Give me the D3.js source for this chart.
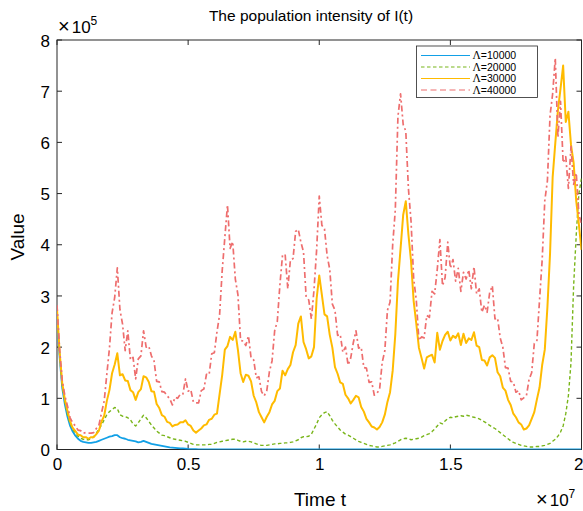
<!DOCTYPE html>
<html>
<head>
<meta charset="utf-8">
<script src="https://cdn.jsdelivr.net/npm/d3@7"></script>
<style>
  html, body { margin: 0; padding: 0; background: #ffffff; }
  svg { display: block; font-family: "Liberation Sans", Arial, Helvetica, sans-serif; }
</style>
</head>
<body>
<svg id="chart" width="583" height="511"></svg>
<script>
// ---- data (time in units of 1e7, values in units of 1e5) ----
const timeGrid = d3.range(201).map(i => i / 100);

const seriesLabels = ["=10000", "=20000", "=30000", "=40000"];
const xTicks = [0, 0.5, 1, 1.5, 2];
const xTickLabels = ["0", "0.5", "1", "1.5", "2"];
const yTicks = [0, 1, 2, 3, 4, 5, 6, 7, 8];
const yTickLabels = ["0", "1", "2", "3", "4", "5", "6", "7", "8"];

const lambda10000 = [
  2.60,1.80,1.20,0.88,0.64,0.46,0.35,0.27,0.21,0.17,
  0.15,0.14,0.13,0.13,0.14,0.15,0.17,0.19,0.21,0.23,
  0.25,0.26,0.28,0.28,0.24,0.22,0.21,0.19,0.18,0.17,
  0.16,0.14,0.15,0.17,0.15,0.13,0.11,0.10,0.09,0.08,
  0.07,0.06,0.05,0.04,0.035,0.03,0.025,0.02,0.02,0.015,
  0.01,0.008,0.006,0.005,0.004,0.003,0.002,0.002,0.001,0.001,
  0,0,0,0,0,0,0,0,0,0, 0,0,0,0,0,0,0,0,0,0,
  0,0,0,0,0,0,0,0,0,0, 0,0,0,0,0,0,0,0,0,0,
  0,0,0,0,0,0,0,0,0,0, 0,0,0,0,0,0,0,0,0,0,
  0,0,0,0,0,0,0,0,0,0, 0,0,0,0,0,0,0,0,0,0,
  0,0,0,0,0,0,0,0,0,0, 0,0,0,0,0,0,0,0,0,0,
  0,0,0,0,0,0,0,0,0,0, 0,0,0,0,0,0,0,0,0,0,
  0,0,0,0,0,0,0,0,0,0, 0,0,0,0,0,0,0,0,0,0,
  0
];

const lambda20000 = [
  2.70,1.85,1.25,0.92,0.68,0.50,0.40,0.32,0.26,0.22,
  0.20,0.19,0.19,0.21,0.25,0.32,0.40,0.48,0.58,0.68,
  0.74,0.78,0.82,0.80,0.68,0.65,0.64,0.62,0.58,0.50,
  0.46,0.52,0.60,0.67,0.62,0.55,0.48,0.42,0.36,0.32,
  0.28,0.27,0.25,0.23,0.21,0.20,0.19,0.18,0.17,0.16,
  0.14,0.12,0.10,0.09,0.09,0.09,0.09,0.09,0.10,0.10,
  0.12,0.14,0.15,0.16,0.17,0.18,0.19,0.20,0.20,0.18,
  0.16,0.15,0.16,0.16,0.15,0.13,0.11,0.09,0.08,0.08,
  0.08,0.09,0.10,0.11,0.11,0.12,0.12,0.13,0.13,0.14,
  0.15,0.17,0.19,0.23,0.25,0.25,0.26,0.30,0.40,0.50,
  0.62,0.68,0.72,0.74,0.66,0.57,0.50,0.44,0.38,0.34,
  0.30,0.28,0.25,0.22,0.19,0.16,0.14,0.12,0.10,0.08,
  0.07,0.06,0.05,0.05,0.06,0.07,0.08,0.09,0.11,0.13,
  0.16,0.19,0.21,0.22,0.21,0.19,0.20,0.21,0.22,0.24,
  0.27,0.29,0.31,0.35,0.40,0.46,0.52,0.50,0.56,0.60,
  0.63,0.62,0.64,0.65,0.66,0.65,0.67,0.66,0.64,0.63,
  0.62,0.60,0.57,0.54,0.51,0.47,0.44,0.41,0.37,0.33,
  0.29,0.25,0.21,0.17,0.14,0.12,0.10,0.08,0.07,0.06,
  0.05,0.05,0.05,0.06,0.06,0.07,0.08,0.10,0.12,0.16,
  0.20,0.26,0.34,0.46,0.70,1.05,1.70,3.20,4.20,5.00,
  5.30
];

const lambda30000 = [
  2.75,1.90,1.30,0.98,0.75,0.55,0.42,0.36,0.29,0.28,
  0.24,0.24,0.21,0.24,0.24,0.30,0.37,0.55,0.66,0.95,
  1.16,1.49,1.66,1.88,1.45,1.47,1.35,1.34,1.16,1.12,
  0.97,1.12,1.18,1.43,1.41,1.32,1.14,1.13,0.89,0.81,
  0.67,0.64,0.54,0.52,0.45,0.48,0.49,0.53,0.53,0.57,
  0.49,0.46,0.37,0.33,0.37,0.41,0.47,0.49,0.58,0.60,
  0.68,0.70,1.08,1.46,1.95,2.02,2.20,2.14,2.30,1.94,
  1.49,1.32,1.46,1.44,1.33,1.05,0.92,0.73,0.63,0.53,
  0.64,0.73,0.88,0.95,1.14,1.19,1.54,1.45,1.57,1.65,
  1.90,2.04,2.46,2.60,2.10,1.96,1.78,1.82,2.00,2.95,
  3.40,3.02,2.64,2.60,2.24,1.99,1.61,1.48,1.31,1.28,
  1.07,1.00,0.90,0.97,1.05,1.02,0.83,0.74,0.60,0.53,
  0.45,0.43,0.39,0.44,0.53,0.68,0.93,1.12,1.54,2.25,
  3.28,3.92,4.58,4.85,4.20,3.68,2.90,2.46,1.99,1.79,
  1.58,1.80,1.83,1.85,1.70,2.28,1.95,2.12,2.24,2.30,
  2.13,2.22,2.18,2.27,2.04,2.26,2.08,2.17,2.14,2.29,
  2.03,2.00,1.75,1.74,1.64,1.80,1.84,1.79,1.51,1.43,
  1.21,1.15,0.97,0.87,0.70,0.63,0.53,0.49,0.39,0.41,
  0.47,0.60,0.73,0.98,1.21,1.65,1.95,2.78,3.82,5.32,
  5.98,6.62,7.05,7.50,6.40,6.60,5.95,5.60,4.85,4.40,
  3.90
];

const lambda40000 = [
  2.82,1.95,1.35,1.05,0.85,0.62,0.52,0.46,0.38,0.37,
  0.32,0.33,0.32,0.32,0.33,0.41,0.48,0.72,0.95,1.47,
  1.98,2.67,2.97,3.55,2.73,2.45,1.93,2.32,1.75,1.80,
  1.38,1.77,1.83,2.32,2.00,2.02,1.83,1.73,1.33,1.32,
  1.13,1.12,1.05,0.99,0.87,1.02,1.00,1.08,1.08,1.38,
  1.14,1.17,0.93,0.91,0.91,1.15,1.18,1.47,1.46,1.87,
  1.89,2.30,2.63,3.50,4.14,4.78,3.93,4.06,3.33,3.02,
  2.13,2.12,2.03,2.22,1.79,1.75,1.40,1.42,1.13,1.05,
  1.15,1.52,1.73,2.32,2.50,3.22,3.80,3.81,3.14,3.70,
  3.73,4.26,4.30,4.05,3.86,2.98,2.92,2.55,3.12,3.90,
  4.95,4.38,4.31,3.79,3.52,2.84,2.72,2.23,2.25,1.90,
  2.00,1.65,1.79,2.09,2.32,1.98,2.00,1.60,1.59,1.31,
  1.32,1.06,1.10,1.17,1.70,1.93,2.72,2.88,4.00,4.68,
  6.50,6.95,6.35,6.22,5.10,4.46,3.34,2.92,2.13,2.20,
  2.18,2.62,2.58,3.09,3.04,3.52,4.10,3.20,3.36,4.05,
  3.54,3.71,3.29,3.54,3.09,3.46,3.33,3.51,3.14,3.57,
  3.04,3.14,2.68,2.82,2.68,3.07,3.20,2.55,2.57,2.18,
  2.00,1.60,1.59,1.33,1.32,1.12,1.15,0.97,1.01,1.05,
  1.37,1.50,2.07,2.13,2.92,3.70,4.86,5.25,6.52,6.95,
  7.65,6.10,6.80,5.60,5.72,5.10,5.92,5.18,5.40,4.60,
  4.40
];

const seriesValues = [lambda10000, lambda20000, lambda30000, lambda40000];
const seriesColors = ["#12a0e6", "#79b51a", "#ffbb00", "#ee6e6e"];
const seriesDash = [null, "3.5,2.5", null, "6,3,2,3"];
const seriesWidth = [1.8, 1.4, 2.0, 1.7];
const legendDash = [null, "3.5,2.5", null, "6,3.5"];

// ---- layout ----
const svg = d3.select("#chart");
const padL = 57, padR = 581.5, padT = 40, padB = 449.5;
const x = d3.scaleLinear().domain([0, 2]).range([padL, padR]);
const y = d3.scaleLinear().domain([0, 8]).range([padB, padT]);
const axisColor = "#262626";

svg.append("defs").append("clipPath").attr("id", "plotclip")
  .append("rect").attr("x", padL).attr("y", padT)
  .attr("width", padR - padL).attr("height", padB - padT);

svg.append("rect").attr("width", 583).attr("height", 511).attr("fill", "#fff");

// curves
const line = d3.line().x((d, i) => x(timeGrid[i])).y(d => y(d));
const plot = svg.append("g").attr("clip-path", "url(#plotclip)");
seriesValues.forEach((vals, s) => {
  plot.append("path")
    .datum(vals)
    .attr("d", line)
    .attr("fill", "none")
    .attr("stroke", seriesColors[s])
    .attr("stroke-width", seriesWidth[s])
    .attr("stroke-linejoin", "round")
    .attr("stroke-dasharray", seriesDash[s]);
});

// axes (box with inward ticks)
const tickLen = 5;
const axBottom = d3.axisBottom(x).tickValues(xTicks).tickSize(0).tickFormat((d, i) => xTickLabels[i]);
const axLeft = d3.axisLeft(y).tickValues(yTicks).tickSize(0).tickFormat((d, i) => yTickLabels[i]);

const gb = svg.append("g").attr("transform", `translate(0,${padB})`).call(axBottom);
gb.select(".domain").remove();
gb.selectAll("text").attr("font-size", 17).attr("fill", "#000")
  .attr("font-family", "Liberation Sans, Arial, sans-serif").attr("dy", null).attr("y", 20.5);
// last label sits against the right edge of the picture
gb.selectAll("text").filter(d => d === 2).attr("text-anchor", "end").attr("x", 583 - padR);

const gl = svg.append("g").attr("transform", `translate(${padL},0)`).call(axLeft);
gl.select(".domain").remove();
gl.selectAll("text").attr("font-size", 17).attr("fill", "#000")
  .attr("font-family", "Liberation Sans, Arial, sans-serif").attr("x", -7).attr("dy", "0.36em");

const frame = svg.append("g").attr("stroke", axisColor).attr("stroke-width", 1).attr("fill", "none");
frame.append("rect").attr("x", padL).attr("y", padT).attr("width", padR - padL).attr("height", padB - padT);
xTicks.forEach(t => {
  frame.append("line").attr("x1", x(t)).attr("x2", x(t)).attr("y1", padB).attr("y2", padB - tickLen);
  frame.append("line").attr("x1", x(t)).attr("x2", x(t)).attr("y1", padT).attr("y2", padT + tickLen);
});
yTicks.forEach(v => {
  frame.append("line").attr("x1", padL).attr("x2", padL + tickLen).attr("y1", y(v)).attr("y2", y(v));
  frame.append("line").attr("x1", padR).attr("x2", padR - tickLen).attr("y1", y(v)).attr("y2", y(v));
});

// curves above the frame, so the flat blue curve covers the bottom axis line (as in reference)
svg.node().appendChild(plot.node());

// exponent labels
const expTop = svg.append("text").attr("x", 58).attr("y", 32.5).attr("font-size", 17).attr("fill", "#000");
expTop.append("tspan").text("\u00d7").attr("font-size", 20).attr("font-weight", 300);
expTop.append("tspan").text("10").attr("dx", 2);
expTop.append("tspan").text("5").attr("font-size", 12).attr("dy", -8);

const expBot = svg.append("text").attr("x", 536).attr("y", 506).attr("font-size", 17).attr("fill", "#000");
expBot.append("tspan").text("\u00d7").attr("font-size", 20).attr("font-weight", 300);
expBot.append("tspan").text("10").attr("dx", 2);
expBot.append("tspan").text("7").attr("font-size", 12).attr("dy", -8);

// title and axis labels
svg.append("text").attr("x", 311).attr("y", 21).attr("text-anchor", "middle")
  .attr("font-size", 15.5).attr("fill", "#000").text("The population intensity of I(t)");
svg.append("text").attr("x", 320).attr("y", 506).attr("text-anchor", "middle")
  .attr("font-size", 19).attr("fill", "#000").text("Time t");
svg.append("text").attr("transform", "translate(24,237) rotate(-90)").attr("text-anchor", "middle")
  .attr("font-size", 19).attr("fill", "#000").text("Value");

// legend
const lg = svg.append("g");
lg.append("rect").attr("x", 416.5).attr("y", 46).attr("width", 121).attr("height", 51.5)
  .attr("fill", "#fff").attr("stroke", axisColor).attr("stroke-width", 0.8);
const rowY = [55.5, 67, 78.5, 90];
seriesLabels.forEach((lab, i) => {
  lg.append("line").attr("x1", 421).attr("x2", 470).attr("y1", rowY[i]).attr("y2", rowY[i])
    .attr("stroke", seriesColors[i]).attr("stroke-width", 1.2)
    .attr("stroke-dasharray", legendDash[i]);
  const t = lg.append("text").attr("x", 472.5).attr("y", rowY[i]).attr("dy", "0.36em")
    .attr("font-size", 10.5).attr("fill", "#000");
  t.append("tspan").text("\u039b").attr("font-family", "Liberation Serif, Times New Roman, serif").attr("font-size", 11.5);
  t.append("tspan").text(lab);
});
</script>
</body>
</html>
